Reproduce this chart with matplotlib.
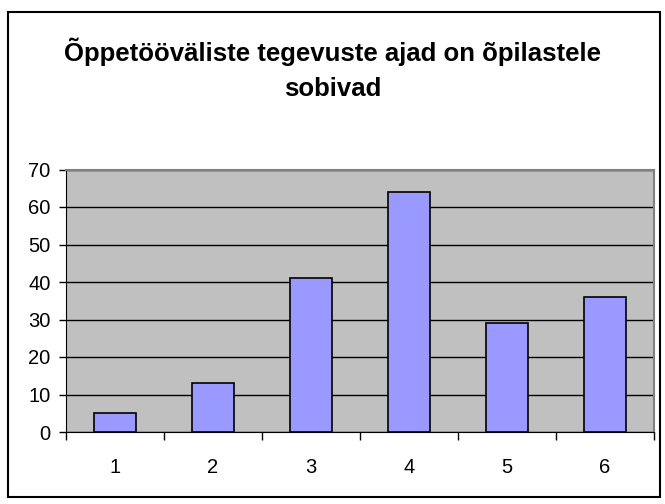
import matplotlib
matplotlib.use("Agg")
import matplotlib.pyplot as plt
from matplotlib.patches import Rectangle

categories = ["1", "2", "3", "4", "5", "6"]
values = [5, 13, 41, 64, 29, 36]
y_ticks = [0, 10, 20, 30, 40, 50, 60, 70]
title_lines = ["Õppetööväliste tegevuste ajad on õpilastele", "sobivad"]

plt.rcParams['font.family'] = ['Liberation Sans', 'DejaVu Sans']

fig = plt.figure(figsize=(6.65, 5.04), dpi=100)
fig.patch.set_facecolor('white')
fig.patches.append(Rectangle((8/665, 1-497/504), (660-8)/665, (497-12)/504,
                             transform=fig.transFigure, fill=False,
                             edgecolor='black', linewidth=1.5, zorder=0))

ax = fig.add_axes([66/665, 1-432/504, (654-66)/665, (432-169.5)/504])
ax.set_facecolor('#C0C0C0')
x = list(range(len(categories)))
ax.bar(x, values, width=0.42, color='#9999FF', edgecolor='black', linewidth=1.2, zorder=3)
ax.set_xlim(-0.5, len(categories) - 0.5)
ax.set_ylim(0, 70)
ax.set_yticks(y_ticks)
ax.set_yticklabels([str(v) for v in y_ticks], fontsize=14.5)
ax.set_xticks(x)
ax.set_xticklabels(categories, fontsize=14.5)
ax.tick_params(axis='x', length=0, pad=19)
ax.set_xticks([i - 0.5 for i in range(len(categories) + 1)], minor=True)
ax.tick_params(axis='x', which='minor', length=6, width=1, color='black', direction='out')
ax.tick_params(axis='y', length=5, width=1, direction='out', pad=6)
ax.yaxis.grid(True, color='black', linewidth=1)
ax.set_axisbelow(True)
for s in ['top', 'right']:
    ax.spines[s].set_color('#808080')
    ax.spines[s].set_linewidth(1.5)
ax.spines['left'].set_color('black')
ax.spines['bottom'].set_color('black')

fig.text(0.5, 1-61/504, title_lines[0], ha='center', va='baseline', fontsize=18.5,
         fontweight='bold')
fig.text(0.5, 1-96/504, title_lines[1], ha='center', va='baseline', fontsize=18.5,
         fontweight='bold')

fig.savefig("out.png", dpi=100)
